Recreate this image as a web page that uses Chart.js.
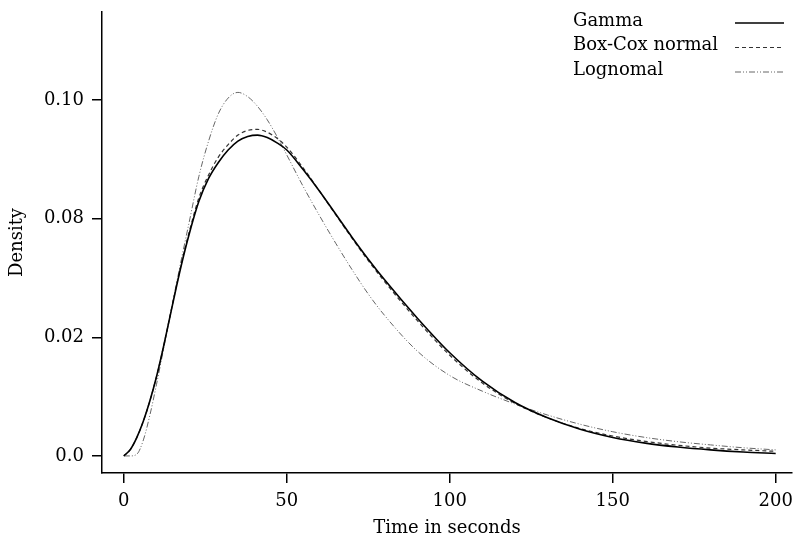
<!DOCTYPE html>
<html>
<head>
<meta charset="utf-8">
<script src="https://cdn.jsdelivr.net/npm/chart.js@4.4.1/dist/chart.umd.min.js"></script>
<style>
  html, body { margin: 0; padding: 0; background: #fff; }
  canvas { display: block; }
</style>
</head>
<body>
<canvas id="densityChart" width="794" height="539"></canvas>
<script>
// time grid (seconds) shared by the three fitted curves
const times = [0, 2, 4, 6, 8, 10, 12, 14, 16, 18, 20, 23, 26, 29, 32, 35, 38, 41, 44, 47, 50,
  55, 60, 65, 70, 75, 80, 90, 100, 110, 120, 130, 140, 150, 160, 170, 180, 190, 200];

const gamma = [0, 0.0018, 0.0052, 0.0098, 0.0155, 0.0222, 0.030, 0.0385, 0.047, 0.055, 0.0622,
  0.0715, 0.078, 0.0825, 0.086, 0.0885, 0.0898, 0.0902, 0.0895, 0.088, 0.086,
  0.0805, 0.0745, 0.068, 0.0615, 0.0553, 0.0495, 0.0388, 0.029, 0.021, 0.015, 0.0107,
  0.0075, 0.0052, 0.0036, 0.0025, 0.0017, 0.0011, 0.0007];

const boxCox = [0, 0.0018, 0.0052, 0.0098, 0.0155, 0.0222, 0.030, 0.0386, 0.0473, 0.0555, 0.0628,
  0.0725, 0.079, 0.084, 0.0875, 0.0902, 0.0915, 0.0918, 0.091, 0.0893, 0.0868,
  0.081, 0.0745, 0.0678, 0.0612, 0.0549, 0.049, 0.0381, 0.0283, 0.0205, 0.0148, 0.0107,
  0.0077, 0.0056, 0.0041, 0.003, 0.0022, 0.0017, 0.0013];

const lognormal = [0, 0, 0.0005, 0.0045, 0.0115, 0.020, 0.0292, 0.0385, 0.0478, 0.0568, 0.0655,
  0.0785, 0.0885, 0.0962, 0.1006, 0.1022, 0.101, 0.0983, 0.0945, 0.0898, 0.0846,
  0.0758, 0.0676, 0.0598, 0.0524, 0.0455, 0.0395, 0.0295, 0.0226, 0.0182, 0.0146, 0.0115,
  0.0089, 0.0068, 0.0052, 0.004, 0.0031, 0.0023, 0.0017];

const seriesNames = ["Gamma", "Box-Cox normal", "Lognomal"];

const xTickValues = [0, 50, 100, 150, 200];
// the y axis labels are printed as in the original figure
const yTickValues = [0, 1 / 30, 2 / 30, 0.1];
const yTickLabels = ["0.0", "0.02", "0.08", "0.10"];

const FONT = "'DejaVu Serif', 'Liberation Serif', serif";

const toPoints = ys => times.map((t, i) => ({ x: t, y: ys[i] }));

// legend drawn at the top right: name on the left, line sample on the right
const sideLegend = {
  id: "sideLegend",
  afterDatasetsDraw(chart) {
    const ctx = chart.ctx;
    ctx.save();
    ctx.font = "18px " + FONT;
    ctx.textBaseline = "middle";
    ctx.textAlign = "left";
    chart.data.datasets.forEach((ds, i) => {
      const y = 21 + i * 24.5;
      ctx.fillStyle = "#000";
      ctx.fillText(ds.label, 573, y);
      ctx.beginPath();
      ctx.strokeStyle = ds.borderColor;
      ctx.lineWidth = ds.borderWidth;
      ctx.setLineDash(ds.borderDash || []);
      ctx.moveTo(735, y + 2);
      ctx.lineTo(784, y + 2);
      ctx.stroke();
    });
    ctx.restore();
  }
};

const axisStyle = {
  grid: { display: true, drawOnChartArea: false, drawTicks: true, tickLength: 10, color: "#000", lineWidth: 1.5 },
  border: { display: true, color: "#000", width: 1.5 }
};

new Chart(document.getElementById("densityChart").getContext("2d"), {
  type: "scatter",
  data: {
    datasets: [
      {
        label: seriesNames[0],
        data: toPoints(gamma),
        borderColor: "#000",
        borderWidth: 1.6,
        borderDash: []
      },
      {
        label: seriesNames[1],
        data: toPoints(boxCox),
        borderColor: "#333",
        borderWidth: 1.2,
        borderDash: [4, 3]
      },
      {
        label: seriesNames[2],
        data: toPoints(lognormal),
        borderColor: "#666",
        borderWidth: 1,
        borderDash: [6, 2, 1, 2, 1, 2]
      }
    ].map(ds => Object.assign(ds, {
      showLine: true,
      pointRadius: 0,
      pointHoverRadius: 0,
      fill: false,
      cubicInterpolationMode: "monotone"
    }))
  },
  options: {
    responsive: false,
    animation: false,
    layout: { padding: { top: 12, right: 2, left: 0, bottom: 0 } },
    plugins: {
      legend: { display: false },
      tooltip: { enabled: false }
    },
    scales: {
      x: {
        type: "linear",
        min: -6.7,
        max: 205,
        ...axisStyle,
        afterBuildTicks: scale => { scale.ticks = xTickValues.map(v => ({ value: v })); },
        afterFit: scale => {
          scale.height = 66;
          scale.paddingLeft = 0;
          scale.paddingRight = 0;
        },
        ticks: {
          color: "#000",
          padding: 8,
          maxRotation: 0,
          font: { family: FONT, size: 18 },
          callback: v => String(v)
        },
        title: {
          display: true,
          text: "Time in seconds",
          color: "#000",
          padding: { top: 0, bottom: 0 },
          font: { family: FONT, size: 18 }
        }
      },
      y: {
        type: "linear",
        min: -0.0048,
        max: 0.1248,
        ...axisStyle,
        afterBuildTicks: scale => { scale.ticks = yTickValues.map(v => ({ value: v })); },
        afterFit: scale => {
          scale.width = 102;
          scale.paddingTop = 0;
          scale.paddingBottom = 0;
        },
        ticks: {
          color: "#000",
          padding: 8,
          font: { family: FONT, size: 18 },
          callback: (v, i) => yTickLabels[i]
        },
        title: {
          display: true,
          text: "Density",
          color: "#000",
          padding: { top: 7, bottom: 0 },
          font: { family: FONT, size: 18 }
        }
      }
    }
  },
  plugins: [sideLegend]
});
</script>
</body>
</html>
